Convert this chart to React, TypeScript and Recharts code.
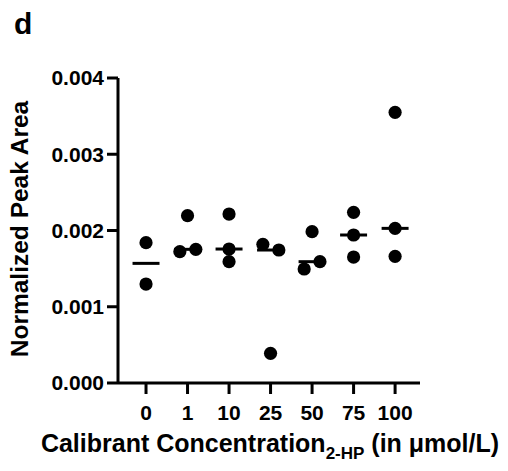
import { ScatterChart, Scatter, XAxis, YAxis, ReferenceLine, Label } from 'recharts'

const categories = ['0', '1', '10', '25', '50', '75', '100']

// normalized peak area per calibrant level
const level0 = [0.00184, 0.001298]
const level1 = [0.002194, 0.001722, 0.001753]
const level10 = [0.002216, 0.001757, 0.001591]
const level25 = [0.001819, 0.001744, 0.000389]
const level50 = [0.001985, 0.001495, 0.001591]
const level75 = [0.002238, 0.001941, 0.001652]
const level100 = [0.00355, 0.002028, 0.001661]

// horizontal spread of overlapping dots, in category units
const jitter0 = [0, 0]
const jitter1 = [0, -0.185, 0.2]
const jitter10 = [0, 0, 0]
const jitter25 = [-0.185, 0.2, 0]
const jitter50 = [0, -0.19, 0.19]
const jitter75 = [0, 0, 0]
const jitter100 = [0, 0, 0]

const yTicks = [0, 0.001, 0.002, 0.003, 0.004]

const groups = [level0, level1, level10, level25, level50, level75, level100]
const jitters = [jitter0, jitter1, jitter10, jitter25, jitter50, jitter75, jitter100]

const points = groups.flatMap((vals, i) =>
  vals.map((v, j) => ({ x: i + jitters[i][j], y: v }))
)

const median = (vals: number[]) => {
  const s = [...vals].sort((a, b) => a - b)
  const m = Math.floor(s.length / 2)
  return s.length % 2 ? s[m] : (s[m - 1] + s[m]) / 2
}

const FONT = '"Liberation Sans", Arial, sans-serif'

const Dot = (props: any) => <circle cx={props.cx} cy={props.cy} r={6.6} fill="#000" />

const XTitle = () => (
  <text x={270} y={452} textAnchor="middle" fontFamily={FONT} fontWeight="bold" fontSize={25} fill="#000">
    Calibrant Concentration
    <tspan fontSize={17} dy={7}>2-HP</tspan>
    <tspan dy={-7}> (in μmol/L)</tspan>
  </text>
)

const YTitle = () => (
  <text
    x={0}
    y={0}
    transform="translate(28, 229) rotate(-90)"
    textAnchor="middle"
    fontFamily={FONT}
    fontWeight="bold"
    fontSize={24.5}
    fill="#000"
  >
    Normalized Peak Area
  </text>
)

export default function App() {
  return (
    <div style={{ position: 'absolute', left: 0, top: 0, width: 508, height: 471, background: '#fff' }}>
      <div
        style={{
          position: 'absolute',
          left: 14,
          top: 4,
          fontFamily: FONT,
          fontWeight: 'bold',
          fontSize: 30,
          lineHeight: '40px',
        }}
      >
        d
      </div>
      <ScatterChart width={508} height={471} margin={{ top: 78, right: 88, bottom: 0, left: 0 }}>
        <XAxis
          type="number"
          dataKey="x"
          domain={[-0.675, 6.6]}
          ticks={[0, 1, 2, 3, 4, 5, 6]}
          tickFormatter={(i: number) => categories[i]}
          allowDataOverflow
          height={88}
          tickSize={11}
          tickMargin={11}
          axisLine={{ stroke: '#000', strokeWidth: 3 }}
          tickLine={{ stroke: '#000', strokeWidth: 3 }}
          tick={{ fill: '#000', fontSize: 21, fontWeight: 'bold', fontFamily: FONT }}
        >
          <Label content={<XTitle />} />
        </XAxis>
        <YAxis
          type="number"
          dataKey="y"
          domain={[0, 0.004]}
          ticks={yTicks}
          tickFormatter={(v: number) => v.toFixed(3)}
          width={118}
          tickSize={11}
          tickMargin={3}
          axisLine={{ stroke: '#000', strokeWidth: 3 }}
          tickLine={{ stroke: '#000', strokeWidth: 3 }}
          tick={{ fill: '#000', fontSize: 21, fontWeight: 'bold', fontFamily: FONT }}
        >
          <Label content={<YTitle />} />
        </YAxis>
        {groups.map((vals, i) => (
          <ReferenceLine
            key={i}
            segment={[
              { x: i - 0.325, y: median(vals) },
              { x: i + 0.325, y: median(vals) },
            ]}
            stroke="#000"
            strokeWidth={3}
          />
        ))}
        <Scatter data={points} shape={Dot} isAnimationActive={false} />
      </ScatterChart>
    </div>
  )
}
